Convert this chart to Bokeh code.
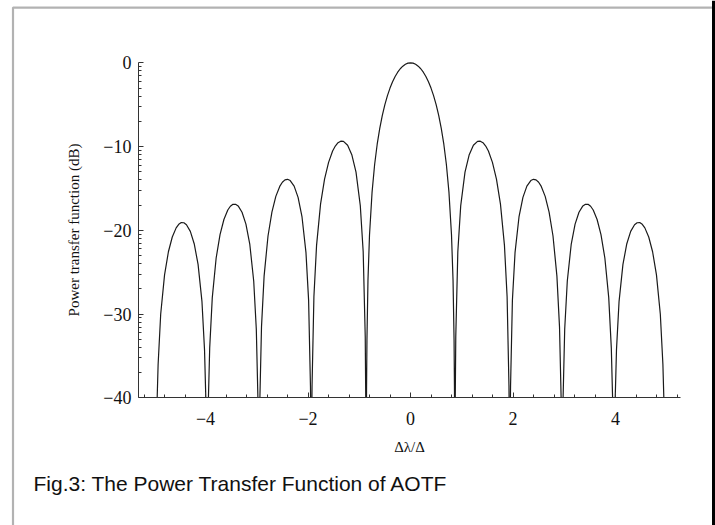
from bokeh.plotting import figure
from bokeh.models import FixedTicker, BoxAnnotation, Label, Range1d, Span
from bokeh.embed import file_html
from bokeh.resources import INLINE

nan = float("nan")   # gap between lobes (each lobe meets the -40 dB floor)

# ---- data (normalised detuning vs. power in dB) ----
delta = [
    -4.9429, -4.9247, -4.8744, -4.7990, -4.7236, -4.6482, -4.5727, -4.5224, -4.4721,
    -4.4218, -4.3715, -4.2960, -4.2205, -4.1450, -4.0694, -4.0190, -3.9943, nan,
    -3.9429, -3.9182, -3.8678, -3.7922, -3.7165, -3.6408, -3.5651, -3.5146, -3.4641,
    -3.4136, -3.3630, -3.2872, -3.2113, -3.1354, -3.0594, -3.0087, -2.9774, nan,
    -2.9387, -2.9073, -2.8566, -2.7804, -2.7042, -2.6279, -2.5515, -2.5005, -2.4495,
    -2.3984, -2.3473, -2.2706, -2.1937, -2.1168, -2.0396, -1.9881, -1.9520, -1.9496, nan,
    -1.9233, -1.9210, -1.8848, -1.8330, -1.7552, -1.6771, -1.5986, -1.5199, -1.4671,
    -1.4142, -1.3611, -1.3077, -1.2270, -1.1456, -1.0633, -0.9798, -0.9233, -0.8833, -0.8734, nan,
    -0.8587, -0.858, -0.85, -0.83, -0.80, -0.75, -0.70, -0.65, -0.60, -0.55,
    -0.50, -0.45, -0.40, -0.35, -0.30, -0.25, -0.20, -0.15, -0.10, -0.05,
    0.0, 0.05, 0.10, 0.15, 0.20, 0.25, 0.30, 0.35, 0.40, 0.45,
    0.50, 0.55, 0.60, 0.65, 0.70, 0.75, 0.80, 0.83, 0.85, 0.858, 0.8587, nan,
    0.8734, 0.8833, 0.9233, 0.9798, 1.0633, 1.1456, 1.2270, 1.3077, 1.3611, 1.4142,
    1.4671, 1.5199, 1.5986, 1.6771, 1.7552, 1.8330, 1.8848, 1.9210, 1.9233, nan,
    1.9496, 1.9520, 1.9881, 2.0396, 2.1168, 2.1937, 2.2706, 2.3473, 2.3984, 2.4495,
    2.5005, 2.5515, 2.6279, 2.7042, 2.7804, 2.8566, 2.9073, 2.9387, nan,
    2.9774, 3.0087, 3.0594, 3.1354, 3.2113, 3.2872, 3.3630, 3.4136, 3.4641,
    3.5146, 3.5651, 3.6408, 3.7165, 3.7922, 3.8678, 3.9182, 3.9429, nan,
    3.9943, 4.0190, 4.0694, 4.1450, 4.2205, 4.2960, 4.3715, 4.4218, 4.4721,
    4.5224, 4.5727, 4.6482, 4.7236, 4.7990, 4.8744, 4.9247, 4.9429,
]
power_db = [
    -40, -36.03, -30.02, -25.33, -22.56, -20.80, -19.71, -19.29, -19.08,
    -19.10, -19.33, -20.13, -21.60, -24.07, -28.48, -34.28, -40, nan,
    -40, -34.07, -28.04, -23.31, -20.51, -18.71, -17.58, -17.13, -16.90,
    -16.89, -17.09, -17.84, -19.27, -21.69, -26.05, -31.82, -40, nan,
    -40, -31.53, -25.47, -20.68, -17.82, -15.95, -14.76, -14.26, -13.98,
    -13.91, -14.06, -14.73, -16.07, -18.41, -22.67, -28.37, -38.65, -40, nan,
    -40, -38.52, -27.93, -21.80, -16.88, -13.89, -11.89, -10.54, -9.94,
    -9.54, -9.36, -9.38, -9.85, -10.97, -13.06, -17.05, -22.56, -32.69, -40, nan,
    -40, -39.19, -33.13, -25.99, -20.56, -15.44, -12.14, -9.72, -7.82, -6.28,
    -5.00, -3.92, -3.02, -2.27, -1.64, -1.12, -0.71, -0.40, -0.18, -0.04,
    0.0, -0.04, -0.18, -0.40, -0.71, -1.12, -1.64, -2.27, -3.02, -3.92,
    -5.00, -6.28, -7.82, -9.72, -12.14, -15.44, -20.56, -25.99, -33.13, -39.19, -40, nan,
    -40, -32.69, -22.56, -17.05, -13.06, -10.97, -9.85, -9.38, -9.36, -9.54,
    -9.94, -10.54, -11.89, -13.89, -16.88, -21.80, -27.93, -38.52, -40, nan,
    -40, -38.65, -28.37, -22.67, -18.41, -16.07, -14.73, -14.06, -13.91, -13.98,
    -14.26, -14.76, -15.95, -17.82, -20.68, -25.47, -31.53, -40, nan,
    -40, -31.82, -26.05, -21.69, -19.27, -17.84, -17.09, -16.89, -16.90,
    -17.13, -17.58, -18.71, -20.51, -23.31, -28.04, -34.07, -40, nan,
    -40, -34.28, -28.48, -24.07, -21.60, -20.13, -19.33, -19.10, -19.08,
    -19.29, -19.71, -20.80, -22.56, -25.33, -30.02, -36.03, -40,
]

x_major = [-4, -2, 0, 2, 4]
x_minor = [-5.2, -4.8, -4.4, -3.6, -3.2, -2.8, -2.4, -1.6, -1.2, -0.8, -0.4,
           0.4, 0.8, 1.2, 1.6, 2.4, 2.8, 3.2, 3.6, 4.4, 4.8, 5.2]
x_labels = {-4: "\u22124", -2: "\u22122", 0: "0", 2: "2", 4: "4"}
y_major = [0, -10, -20, -30, -40]
y_minor = [-0.46, -0.97, -1.55, -2.22, -3.01, -3.98, -5.23, -6.99,
           -10.46, -10.97, -11.55, -12.22, -13.01, -13.98, -15.23, -16.99,
           -20.46, -20.97, -21.55, -22.22, -23.01, -23.98, -25.23, -26.99,
           -30.46, -30.97, -31.55, -32.22, -33.01, -33.98, -35.23, -36.99]
y_labels = {0: "0", -10: "\u221210", -20: "\u221220", -30: "\u221230", -40: "\u221240"}

x_title = "\u0394\u03bb/\u0394"
y_title = "Power transfer function (dB)"
caption = "Fig.3: The Power Transfer Function of AOTF"

x_axis_span = (-5.307, 5.268)   # extent of the drawn x axis
y_axis_span = (-40, 0)          # extent of the drawn y axis

SERIF = "Liberation Serif"
SANS = "Liberation Sans"

# the frame covers the whole panel; axes are pinned inside it
p = figure(width=715, height=525, min_border=0,
           x_range=Range1d(-8.0, 5.951), y_range=Range1d(-55.25, 7.44),
           output_backend="svg", toolbar_location=None)
p.title.visible = False
p.outline_line_color = None
p.xgrid.visible = False
p.ygrid.visible = False
p.background_fill_color = "white"
p.border_fill_color = "white"

p.line(delta, power_db, line_color="#1a1a1a", line_width=1.2)

for ax in (p.xaxis[0], p.yaxis[0]):
    ax.axis_line_color = "#333333"
    ax.axis_line_width = 1
    ax.major_tick_line_color = "#333333"
    ax.minor_tick_line_color = "#333333"
    ax.major_tick_in = 5
    ax.major_tick_out = 0
    ax.minor_tick_in = 3
    ax.minor_tick_out = 0
    ax.major_label_text_font = SERIF
    ax.major_label_text_font_size = "18px"
    ax.major_label_text_color = "#111111"
    ax.axis_label_text_font = SERIF
    ax.axis_label_text_font_size = "15px"
    ax.axis_label_text_font_style = "normal"
    ax.axis_label_text_color = "#111111"

p.xaxis.fixed_location = y_axis_span[0]
p.xaxis.bounds = x_axis_span
p.xaxis.ticker = FixedTicker(ticks=x_major, minor_ticks=x_minor)
p.xaxis.major_label_overrides = x_labels
p.xaxis.major_label_standoff = 14
p.xaxis.axis_label = x_title
p.xaxis.axis_label_standoff = 11

p.yaxis.fixed_location = x_axis_span[0]
p.yaxis.bounds = y_axis_span
p.yaxis.ticker = FixedTicker(ticks=y_major, minor_ticks=y_minor)
p.yaxis.major_label_overrides = y_labels
p.yaxis.major_label_standoff = 7
p.yaxis.axis_label = y_title
p.yaxis.axis_label_standoff = 18

# outer frame of the figure panel (open at the bottom, like the page crop)
p.add_layout(BoxAnnotation(left=-7.756, right=5.912, top=6.6, bottom=-60,
                           fill_color=None, fill_alpha=0,
                           line_color="black", line_width=2.2, level="overlay"))
p.add_layout(Span(location=5.912, dimension="height", line_color="black",
                  line_width=3, level="overlay"))

p.add_layout(Label(x=-7.356, y=-50.2, text=caption, text_font=SANS,
                   text_font_size="21px", text_color="#111111",
                   text_baseline="alphabetic", text_align="left"))

open("out.html", "w").write(file_html(p, INLINE))
